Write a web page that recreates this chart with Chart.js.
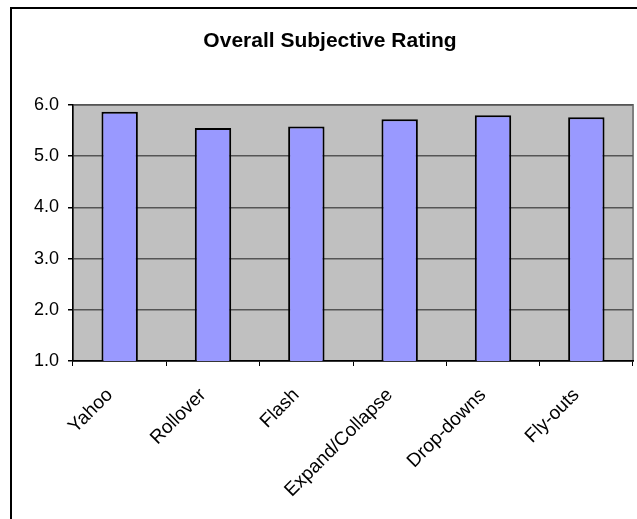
<!DOCTYPE html>
<html>
<head>
<meta charset="utf-8">
<script src="https://cdn.jsdelivr.net/npm/chart.js@4/dist/chart.umd.min.js"></script>
<style>
  html, body { margin: 0; padding: 0; background: #fff; }
  #wrap { width: 637px; height: 519px; }
</style>
</head>
<body>
<div id="wrap"><canvas id="ratingChart" width="637" height="519"></canvas></div>
<script>
const categories = ['Yahoo', 'Rollover', 'Flash', 'Expand/Collapse', 'Drop-downs', 'Fly-outs'];
const ratings = [5.87, 5.55, 5.58, 5.72, 5.80, 5.76];
const yTicks = [1.0, 2.0, 3.0, 4.0, 5.0, 6.0];
const chartTitle = 'Overall Subjective Rating';

const FONT = '"Liberation Sans", Arial, sans-serif';

// gray plot background, outer frame and the title
const frame = {
  id: 'frame',
  beforeDraw(chart) {
    const { ctx, chartArea: a } = chart;
    ctx.save();
    ctx.fillStyle = '#c0c0c0';
    ctx.fillRect(a.left, a.top, a.right - a.left, a.bottom - a.top);
    ctx.strokeStyle = '#808080';
    ctx.lineWidth = 2;
    ctx.strokeRect(a.left, a.top, a.right - a.left, a.bottom - a.top);
    ctx.restore();
  },
  afterDraw(chart) {
    const ctx = chart.ctx;
    ctx.save();
    ctx.strokeStyle = '#000';
    ctx.lineWidth = 2;
    ctx.strokeRect(11, 8, 640, 520);
    ctx.fillStyle = '#000';
    ctx.font = 'bold 21px ' + FONT;
    ctx.textAlign = 'center';
    ctx.textBaseline = 'middle';
    ctx.fillText(chartTitle, 330, 41);
    ctx.restore();
  }
};

new Chart(document.getElementById('ratingChart'), {
  type: 'bar',
  data: {
    labels: categories,
    datasets: [{
      data: ratings,
      backgroundColor: '#9999ff',
      borderColor: '#000',
      borderWidth: 2,
      barPercentage: 0.39,
      categoryPercentage: 1.0
    }]
  },
  options: {
    responsive: false,
    animation: false,
    layout: { padding: { left: 0, right: 4, top: 105, bottom: 0 } },
    plugins: { legend: { display: false }, tooltip: { enabled: false } },
    scales: {
      x: {
        afterFit(s) { s.height = 158; },
        grid: { display: true, drawOnChartArea: false, offset: true, color: '#000', tickLength: 5 },
        border: { color: '#000', width: 1.5 },
        ticks: {
          autoSkip: false, maxRotation: 45, minRotation: 45,
          color: '#000', font: { family: FONT, size: 19 },
          padding: 18, labelOffset: -10
        }
      },
      y: {
        min: 1, max: 6,
        afterFit(s) { s.width = 73; },
        afterBuildTicks(s) { s.ticks = yTicks.map(v => ({ value: v })); },
        grid: { color: '#555', tickColor: '#000', tickLength: 5, lineWidth: 1.5 },
        border: { color: '#000', width: 1.5 },
        ticks: {
          color: '#000', font: { family: FONT, size: 18 }, padding: 9,
          callback: v => v.toFixed(1)
        }
      }
    }
  },
  plugins: [frame]
});
</script>
</body>
</html>
